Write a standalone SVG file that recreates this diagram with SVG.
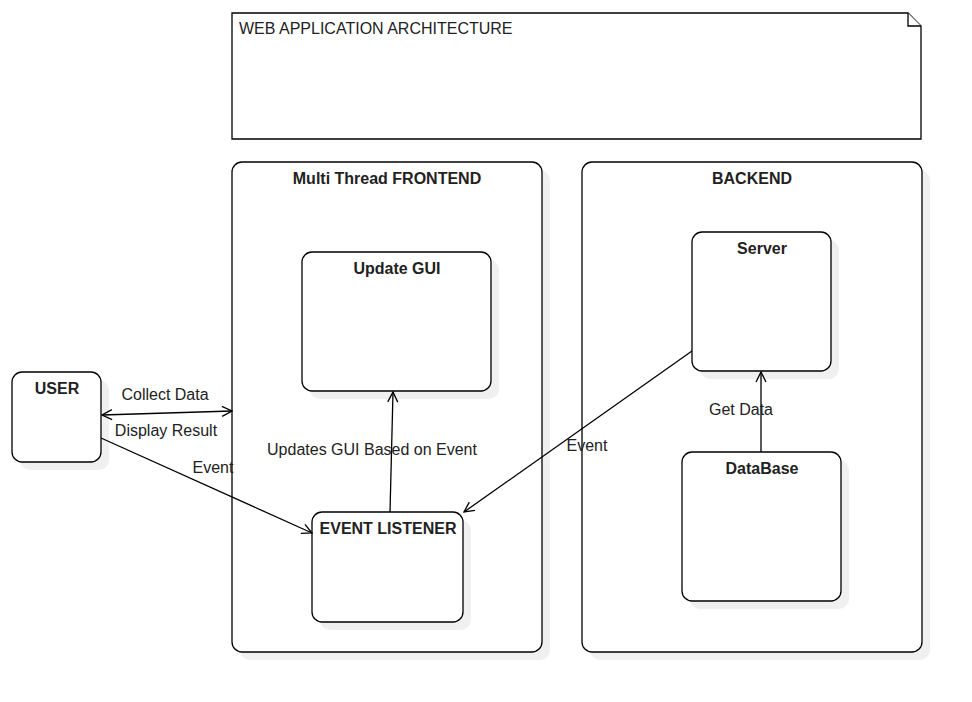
<svg xmlns="http://www.w3.org/2000/svg" width="972" height="702" viewBox="0 0 972 702">
<style>
.box{fill:#fff;stroke:#000;stroke-width:1.3}
.sh{fill:#f0f0f0;stroke:none}
.t{font-family:"Liberation Sans",Arial,sans-serif;font-size:16px;fill:#222}
.b{font-weight:bold;text-anchor:middle}
.c{text-anchor:middle}
.ln{fill:none;stroke:#000;stroke-width:1.3}
</style>
<defs>
<marker id="oa" viewBox="0 0 12 12" refX="11" refY="6" markerWidth="12" markerHeight="12" markerUnits="userSpaceOnUse" orient="auto-start-reverse">
<path d="M1,1 L11,6 L1,11" fill="none" stroke="#000" stroke-width="1.3"/>
</marker>
</defs>
<rect width="972" height="702" fill="#fff"/>
<g id="note">
<path class="box" d="M232,13 H908 L921,26 V139 H232 Z"/>
<path class="box" d="M908,13 V26 H921"/>
<text class="t" x="239" y="34">WEB APPLICATION ARCHITECTURE</text>
</g>
<g id="frontend">
<rect class="sh" x="240" y="170" width="310" height="490" rx="10"/>
<rect class="box" x="232" y="162" width="310" height="490" rx="10"/>
<text class="t b" x="387" y="184">Multi Thread FRONTEND</text>
</g>
<g id="backend">
<rect class="sh" x="590" y="170" width="340" height="490" rx="10"/>
<rect class="box" x="582" y="162" width="340" height="490" rx="10"/>
<text class="t b" x="752" y="184">BACKEND</text>
</g>
<g id="update-gui">
<rect class="sh" x="310" y="260" width="189" height="139" rx="10"/>
<rect class="box" x="302" y="252" width="189" height="139" rx="10"/>
<text class="t b" x="397" y="274">Update GUI</text>
</g>
<g id="event-listener">
<rect class="sh" x="320" y="520" width="151" height="110" rx="10"/>
<rect class="box" x="312" y="512" width="151" height="110" rx="10"/>
<text class="t b" x="388" y="534">EVENT LISTENER</text>
</g>
<g id="server">
<rect class="sh" x="700" y="240" width="139" height="139" rx="10"/>
<rect class="box" x="692" y="232" width="139" height="139" rx="10"/>
<text class="t b" x="762" y="254">Server</text>
</g>
<g id="database">
<rect class="sh" x="690" y="460" width="159" height="149" rx="10"/>
<rect class="box" x="682" y="452" width="159" height="149" rx="10"/>
<text class="t b" x="762" y="474">DataBase</text>
</g>
<g id="user">
<rect class="sh" x="20" y="380" width="89" height="90" rx="10"/>
<rect class="box" x="12" y="372" width="89" height="90" rx="10"/>
<text class="t b" x="57" y="394">USER</text>
</g>
<g id="connectors">
<line class="ln" x1="102" y1="415" x2="232" y2="411" marker-start="url(#oa)" marker-end="url(#oa)"/>
<line class="ln" x1="101" y1="438" x2="312" y2="533" marker-end="url(#oa)"/>
<line class="ln" x1="390" y1="512" x2="393" y2="392" marker-end="url(#oa)"/>
<line class="ln" x1="692" y1="351" x2="464" y2="512" marker-end="url(#oa)"/>
<line class="ln" x1="761" y1="452" x2="761" y2="372" marker-end="url(#oa)"/>
<text class="t c" x="165" y="400">Collect Data</text>
<text class="t c" x="166" y="436">Display Result</text>
<text class="t c" x="213" y="473">Event</text>
<text class="t c" x="372" y="455">Updates GUI Based on Event</text>
<text class="t c" x="587" y="451">Event</text>
<text class="t c" x="741" y="415">Get Data</text>
</g>
</svg>
